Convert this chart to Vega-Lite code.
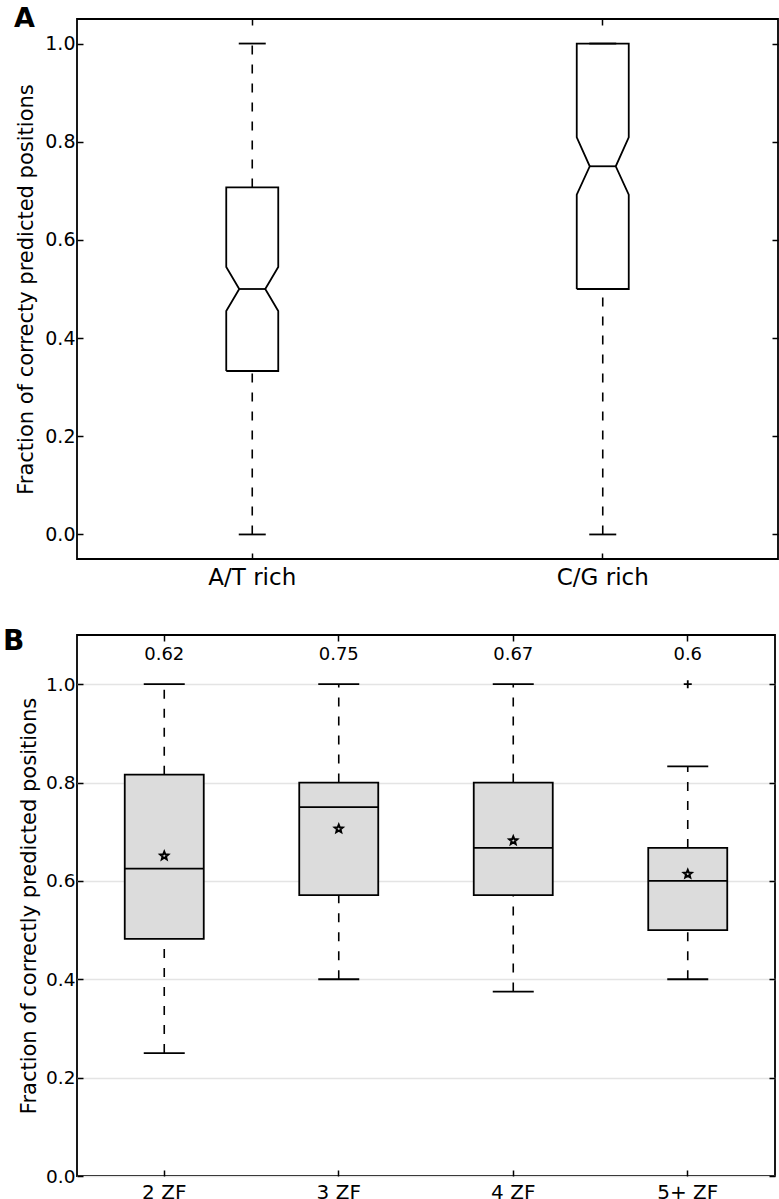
{
  "$schema": "https://vega.github.io/schema/vega-lite/v6.json",
  "background": "white",
  "padding": {"left": 2, "top": 4, "right": 0, "bottom": 0},
  "spacing": 37,
  "config": {
    "font": "DejaVu Sans",
    "view": {"stroke": "#000000", "strokeWidth": 1.8},
    "axis": {
      "labelFont": "DejaVu Sans",
      "titleFont": "DejaVu Sans",
      "labelColor": "#000000",
      "titleColor": "#000000",
      "tickColor": "#000000",
      "tickWidth": 1.5,
      "domain": false,
      "titleFontWeight": "normal"
    },
    "tick": {"opacity": 1},
    "point": {"opacity": 1},
    "title": {"font": "DejaVu Sans", "color": "#000000"}
  },
  "datasets": {
    "a_stats": [
      {"cat": "A/T rich", "lo": 0.0, "q1": 0.333, "med": 0.5, "q3": 0.707, "hi": 1.0},
      {"cat": "C/G rich", "lo": 0.0, "q1": 0.5, "med": 0.75, "q3": 1.0, "hi": 1.0}
    ],
    "a_outline": [
      {"cat": "A/T rich", "seq": 1, "vertex": "L", "value": 0.333},
      {"cat": "A/T rich", "seq": 2, "vertex": "L", "value": 0.455},
      {"cat": "A/T rich", "seq": 3, "vertex": "Ln", "value": 0.5},
      {"cat": "A/T rich", "seq": 4, "vertex": "L", "value": 0.545},
      {"cat": "A/T rich", "seq": 5, "vertex": "L", "value": 0.707},
      {"cat": "A/T rich", "seq": 6, "vertex": "R", "value": 0.707},
      {"cat": "A/T rich", "seq": 7, "vertex": "R", "value": 0.545},
      {"cat": "A/T rich", "seq": 8, "vertex": "Rn", "value": 0.5},
      {"cat": "A/T rich", "seq": 9, "vertex": "R", "value": 0.455},
      {"cat": "A/T rich", "seq": 10, "vertex": "R", "value": 0.333},
      {"cat": "A/T rich", "seq": 11, "vertex": "L", "value": 0.333},
      {"cat": "C/G rich", "seq": 1, "vertex": "L", "value": 0.5},
      {"cat": "C/G rich", "seq": 2, "vertex": "L", "value": 0.692},
      {"cat": "C/G rich", "seq": 3, "vertex": "Ln", "value": 0.75},
      {"cat": "C/G rich", "seq": 4, "vertex": "L", "value": 0.809},
      {"cat": "C/G rich", "seq": 5, "vertex": "L", "value": 1.0},
      {"cat": "C/G rich", "seq": 6, "vertex": "R", "value": 1.0},
      {"cat": "C/G rich", "seq": 7, "vertex": "R", "value": 0.809},
      {"cat": "C/G rich", "seq": 8, "vertex": "Rn", "value": 0.75},
      {"cat": "C/G rich", "seq": 9, "vertex": "R", "value": 0.692},
      {"cat": "C/G rich", "seq": 10, "vertex": "R", "value": 0.5},
      {"cat": "C/G rich", "seq": 11, "vertex": "L", "value": 0.5}
    ],
    "b_stats": [
      {"cat": "2 ZF", "lo": 0.25, "q1": 0.482, "med": 0.625, "q3": 0.816, "hi": 1.0, "mean": 0.651, "label": "0.62"},
      {"cat": "3 ZF", "lo": 0.4, "q1": 0.571, "med": 0.75, "q3": 0.8, "hi": 1.0, "mean": 0.706, "label": "0.75"},
      {"cat": "4 ZF", "lo": 0.375, "q1": 0.571, "med": 0.667, "q3": 0.8, "hi": 1.0, "mean": 0.682, "label": "0.67"},
      {"cat": "5+ ZF", "lo": 0.4, "q1": 0.5, "med": 0.6, "q3": 0.667, "hi": 0.833, "mean": 0.614, "label": "0.6"}
    ],
    "b_outliers": [
      {"cat": "5+ ZF", "value": 1.0}
    ]
  },
  "vconcat": [
    {
      "width": 701,
      "height": 540,
      "title": {"text": "A", "fontSize": 27, "fontWeight": "bold", "anchor": "start", "frame": "group", "dx": -63, "offset": -15},
      "resolve": {"axis": {"x": "independent", "y": "independent"}},
      "layer": [
        {
          "data": {"name": "a_stats"},
          "mark": {"type": "rule", "color": "#000000", "strokeWidth": 1.6, "strokeDash": [9, 10]},
          "encoding": {
            "x": {"field": "cat", "type": "nominal", "scale": {"type": "band", "domain": ["A/T rich", "C/G rich"], "paddingInner": 0, "paddingOuter": 0},
                  "axis": {"orient": "bottom", "title": null, "labelFontSize": 23, "labelAngle": 0, "tickSize": -6, "labelPadding": 13}},
            "y": {"field": "lo", "type": "quantitative", "scale": {"domain": [-0.05, 1.05], "nice": false, "zero": false},
                  "axis": {"orient": "left", "title": "Fraction of correcty predicted positions", "titleFontSize": 21, "titlePadding": 8, "labelFontSize": 19, "tickSize": -6, "labelPadding": 8, "values": [0, 0.2, 0.4, 0.6, 0.8, 1.0], "format": ".1f", "grid": false}},
            "y2": {"field": "q1"}
          }
        },
        {
          "data": {"name": "a_stats"},
          "mark": {"type": "rule", "color": "#000000", "strokeWidth": 1.6, "strokeDash": [9, 10]},
          "encoding": {
            "x": {"field": "cat", "type": "nominal", "axis": {"orient": "top", "title": null, "labels": false, "tickSize": -6}},
            "y": {"field": "q3", "type": "quantitative", "axis": {"orient": "right", "title": null, "labels": false, "tickSize": -6, "values": [0, 0.2, 0.4, 0.6, 0.8, 1.0], "grid": false}},
            "y2": {"field": "hi"}
          }
        },
        {
          "data": {"name": "a_stats"},
          "mark": {"type": "tick", "color": "#000000", "size": 27, "thickness": 1.8},
          "encoding": {
            "x": {"field": "cat", "type": "nominal", "axis": null},
            "y": {"field": "lo", "type": "quantitative", "axis": null}
          }
        },
        {
          "data": {"name": "a_stats"},
          "mark": {"type": "tick", "color": "#000000", "size": 27, "thickness": 1.8},
          "encoding": {
            "x": {"field": "cat", "type": "nominal", "axis": null},
            "y": {"field": "hi", "type": "quantitative", "axis": null}
          }
        },
        {
          "data": {"name": "a_outline"},
          "mark": {"type": "line", "color": "#000000", "strokeWidth": 1.8, "strokeJoin": "miter"},
          "encoding": {
            "x": {"field": "cat", "type": "nominal", "axis": null},
            "xOffset": {"field": "vertex", "type": "nominal", "scale": {"type": "point", "domain": ["L", "l1", "Ln", "l2", "C", "r2", "Rn", "r1", "R"], "range": [149.25, 201.25], "padding": 0}},
            "y": {"field": "value", "type": "quantitative", "axis": null},
            "detail": {"field": "cat"},
            "order": {"field": "seq", "type": "quantitative"}
          }
        },
        {
          "data": {"name": "a_stats"},
          "mark": {"type": "tick", "color": "#000000", "size": 26, "thickness": 1.8},
          "encoding": {
            "x": {"field": "cat", "type": "nominal", "axis": null},
            "y": {"field": "med", "type": "quantitative", "axis": null}
          }
        }
      ]
    },
    {
      "width": 698,
      "height": 541,
      "title": {"text": "B", "fontSize": 28, "fontWeight": "bold", "anchor": "start", "frame": "group", "dx": -74, "offset": -22},
      "resolve": {"axis": {"x": "independent", "y": "independent"}},
      "layer": [
        {
          "data": {"name": "b_stats"},
          "mark": {"type": "rule", "color": "#000000", "strokeWidth": 1.6, "strokeDash": [9, 10]},
          "encoding": {
            "x": {"field": "cat", "type": "nominal", "scale": {"type": "band", "domain": ["2 ZF", "3 ZF", "4 ZF", "5+ ZF"], "paddingInner": 0, "paddingOuter": 0},
                  "axis": {"orient": "bottom", "title": null, "labelFontSize": 20, "labelAngle": 0, "tickSize": -6, "labelPadding": 12}},
            "y": {"field": "lo", "type": "quantitative", "scale": {"domain": [0, 1.1], "nice": false, "zero": false},
                  "axis": {"orient": "left", "title": "Fraction of correctly predicted positions", "titleFontSize": 21, "titlePadding": 6, "labelFontSize": 18.5, "tickSize": -6, "labelPadding": 8, "values": [0, 0.2, 0.4, 0.6, 0.8, 1.0], "format": ".1f", "grid": true, "gridColor": "#e4e4e4", "gridWidth": 1.5}},
            "y2": {"field": "q1"}
          }
        },
        {
          "data": {"name": "b_stats"},
          "mark": {"type": "rule", "color": "#000000", "strokeWidth": 1.6, "strokeDash": [9, 10]},
          "encoding": {
            "x": {"field": "cat", "type": "nominal", "axis": {"orient": "top", "title": null, "labels": false, "tickSize": -6}},
            "y": {"field": "q3", "type": "quantitative", "axis": {"orient": "right", "title": null, "labels": false, "tickSize": -6, "values": [0, 0.2, 0.4, 0.6, 0.8, 1.0], "grid": false}},
            "y2": {"field": "hi"}
          }
        },
        {
          "data": {"name": "b_stats"},
          "mark": {"type": "tick", "color": "#000000", "size": 41, "thickness": 1.8},
          "encoding": {
            "x": {"field": "cat", "type": "nominal", "axis": null},
            "y": {"field": "lo", "type": "quantitative", "axis": null}
          }
        },
        {
          "data": {"name": "b_stats"},
          "mark": {"type": "tick", "color": "#000000", "size": 41, "thickness": 1.8},
          "encoding": {
            "x": {"field": "cat", "type": "nominal", "axis": null},
            "y": {"field": "hi", "type": "quantitative", "axis": null}
          }
        },
        {
          "data": {"name": "b_stats"},
          "mark": {"type": "bar", "width": 79, "fill": "#dcdcdc", "stroke": "#000000", "strokeWidth": 1.8},
          "encoding": {
            "x": {"field": "cat", "type": "nominal", "axis": null},
            "y": {"field": "q1", "type": "quantitative", "axis": null},
            "y2": {"field": "q3"}
          }
        },
        {
          "data": {"name": "b_stats"},
          "mark": {"type": "tick", "color": "#000000", "size": 79, "thickness": 1.8},
          "encoding": {
            "x": {"field": "cat", "type": "nominal", "axis": null},
            "y": {"field": "med", "type": "quantitative", "axis": null}
          }
        },
        {
          "data": {"name": "b_stats"},
          "mark": {"type": "point", "shape": "M0,-1L0.26,-0.36L0.951,-0.309L0.42,0.137L0.588,0.809L0,0.44L-0.588,0.809L-0.42,0.137L-0.951,-0.309L-0.26,-0.36Z", "size": 70, "filled": false, "stroke": "#000000", "strokeWidth": 2},
          "encoding": {
            "x": {"field": "cat", "type": "nominal", "axis": null},
            "y": {"field": "mean", "type": "quantitative", "axis": null}
          }
        },
        {
          "data": {"name": "b_outliers"},
          "mark": {"type": "point", "shape": "M -1 0 L 1 0 M 0 -1 L 0 1", "size": 64, "filled": false, "stroke": "#000000", "strokeWidth": 1.8},
          "encoding": {
            "x": {"field": "cat", "type": "nominal", "axis": null},
            "y": {"field": "value", "type": "quantitative", "axis": null}
          }
        },
        {
          "data": {"name": "b_stats"},
          "mark": {"type": "text", "fontSize": 18, "color": "#000000", "baseline": "middle", "align": "center"},
          "encoding": {
            "x": {"field": "cat", "type": "nominal", "axis": null},
            "y": {"datum": 1.06, "type": "quantitative", "axis": null},
            "text": {"field": "label"}
          }
        }
      ]
    }
  ]
}
